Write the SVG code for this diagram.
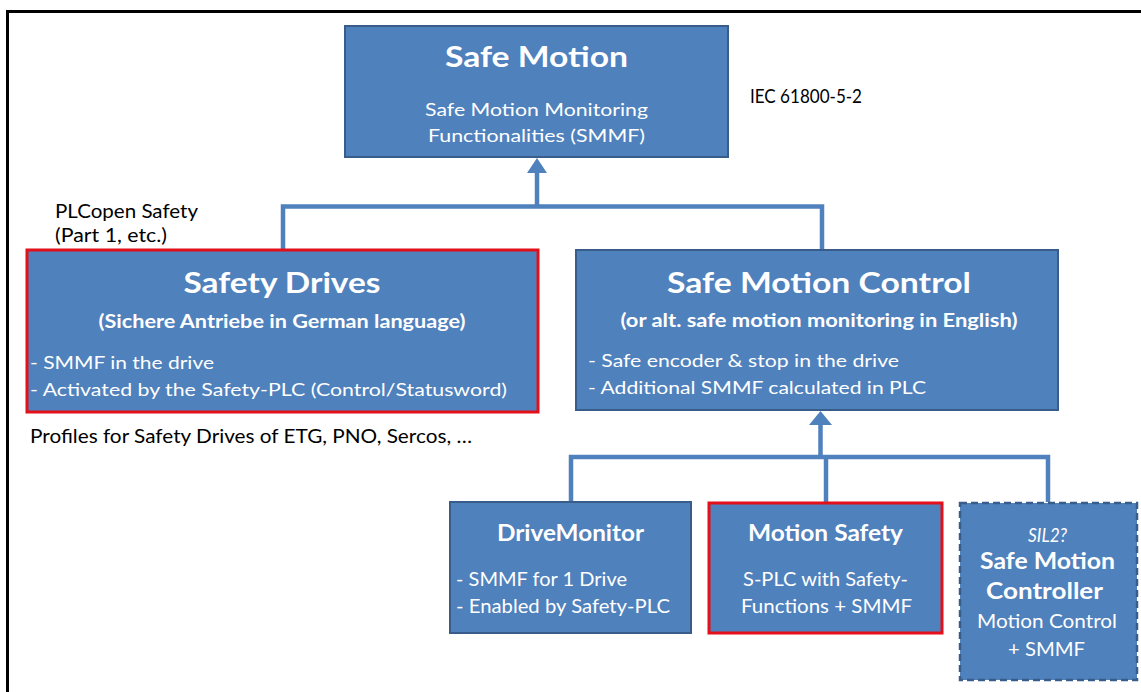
<svg xmlns="http://www.w3.org/2000/svg" width="1141" height="692" viewBox="0 0 1141 692">
<style>
.box{fill:#4F81BD;stroke:#385D8A;stroke-width:2}
.red{fill:#4F81BD;stroke:#E3101A;stroke-width:3}
.dash{fill:#4F81BD;stroke:#385D8A;stroke-width:2.5;stroke-dasharray:7 4}
.con{fill:none;stroke:#4F81BD;stroke-width:4.5}
.head{fill:#4F81BD}
text{font-family:Lato,"Open Sans","Liberation Sans",sans-serif;fill:#fff}
.t{font-weight:bold;font-size:29px;text-anchor:middle}
.s{font-weight:bold;font-size:18px;text-anchor:middle}
.m{font-weight:bold;font-size:22px;text-anchor:middle}
.b{font-size:18px}
.c{font-size:18px;text-anchor:middle}
.d{font-size:19px}
.e{font-size:19px;text-anchor:middle}
.k{fill:#000;font-size:18.5px}
</style>
<rect width="1141" height="692" fill="#fff"/>
<path d="M7.5,692 V11.5 H1141" fill="none" stroke="#000" stroke-width="3"/>
<g id="connectors">
<path class="con" d="M283,250 V206.5 H822 V250"/>
<path class="con" d="M537,206.5 V170"/>
<polygon class="head" points="527,173 547,173 537,158"/>
<path class="con" d="M571,502 V457 H1048 V502"/>
<path class="con" d="M826,457 V502"/>
<path class="con" d="M820.5,457 V422"/>
<polygon class="head" points="809,425 832,425 820.5,411"/>
</g>
<g id="safe-motion">
<rect class="box" x="345" y="26" width="383" height="131"/>
<text class="t" x="536.5" y="67" textLength="183" lengthAdjust="spacingAndGlyphs">Safe Motion</text>
<text class="c" x="536.5" y="116" textLength="223" lengthAdjust="spacingAndGlyphs">Safe Motion Monitoring</text>
<text class="c" x="536.5" y="142" textLength="217" lengthAdjust="spacingAndGlyphs">Functionalities (SMMF)</text>
</g>
<g id="iec">
<text class="k" x="750" y="103" textLength="112" lengthAdjust="spacingAndGlyphs">IEC 61800-5-2</text>
</g>
<g id="plcopen">
<text class="k" x="55" y="218" textLength="143" lengthAdjust="spacingAndGlyphs">PLCopen Safety</text>
<text class="k" x="55" y="242" textLength="112" lengthAdjust="spacingAndGlyphs">(Part 1, etc.)</text>
</g>
<g id="safety-drives">
<rect class="red" x="27" y="250" width="511" height="162"/>
<text class="t" x="282" y="293" textLength="197" lengthAdjust="spacingAndGlyphs">Safety Drives</text>
<text class="s" x="282" y="328" textLength="367" lengthAdjust="spacingAndGlyphs">(Sichere Antriebe in German language)</text>
<text class="b" x="30" y="369" textLength="184" lengthAdjust="spacingAndGlyphs">- SMMF in the drive</text>
<text class="b" x="30" y="396" textLength="477" lengthAdjust="spacingAndGlyphs">- Activated by the Safety-PLC (Control/Statusword)</text>
</g>
<g id="profiles">
<text class="k" x="30" y="443" textLength="442" lengthAdjust="spacingAndGlyphs">Profiles for Safety Drives of ETG, PNO, Sercos, …</text>
</g>
<g id="safe-motion-control">
<rect class="box" x="576" y="250" width="482" height="160"/>
<text class="t" x="819" y="293" textLength="304" lengthAdjust="spacingAndGlyphs">Safe Motion Control</text>
<text class="s" x="819" y="327" textLength="397" lengthAdjust="spacingAndGlyphs">(or alt. safe motion monitoring in English)</text>
<text class="b" x="588" y="367" textLength="311" lengthAdjust="spacingAndGlyphs">- Safe encoder &amp; stop in the drive</text>
<text class="b" x="588" y="394" textLength="338" lengthAdjust="spacingAndGlyphs">- Additional  SMMF calculated in PLC</text>
</g>
<g id="drive-monitor">
<rect class="box" x="450" y="502" width="241" height="131"/>
<text class="m" x="570.5" y="541" textLength="147" lengthAdjust="spacingAndGlyphs">DriveMonitor</text>
<text class="d" x="456" y="586" textLength="171" lengthAdjust="spacingAndGlyphs">- SMMF for 1 Drive</text>
<text class="d" x="456" y="613" textLength="214" lengthAdjust="spacingAndGlyphs">- Enabled  by Safety-PLC</text>
</g>
<g id="motion-safety">
<rect class="red" x="709" y="503" width="233" height="130"/>
<text class="m" x="825.5" y="541" textLength="155" lengthAdjust="spacingAndGlyphs">Motion Safety</text>
<text class="e" x="825.5" y="586" textLength="165" lengthAdjust="spacingAndGlyphs">S-PLC with  Safety-</text>
<text class="e" x="826.5" y="613" textLength="171" lengthAdjust="spacingAndGlyphs">Functions + SMMF</text>
</g>
<g id="safe-motion-controller">
<rect class="dash" x="960" y="503" width="177" height="177"/>
<text class="e" x="1047.5" y="542" style="font-style:italic" textLength="39" lengthAdjust="spacingAndGlyphs">SIL2?</text>
<text class="m" x="1047.5" y="569" textLength="135" lengthAdjust="spacingAndGlyphs">Safe Motion</text>
<text class="m" x="1044.5" y="599" textLength="117" lengthAdjust="spacingAndGlyphs">Controller</text>
<text class="e" x="1047" y="628" textLength="140" lengthAdjust="spacingAndGlyphs">Motion Control</text>
<text class="e" x="1046.5" y="656" textLength="77" lengthAdjust="spacingAndGlyphs">+ SMMF</text>
</g>
</svg>
